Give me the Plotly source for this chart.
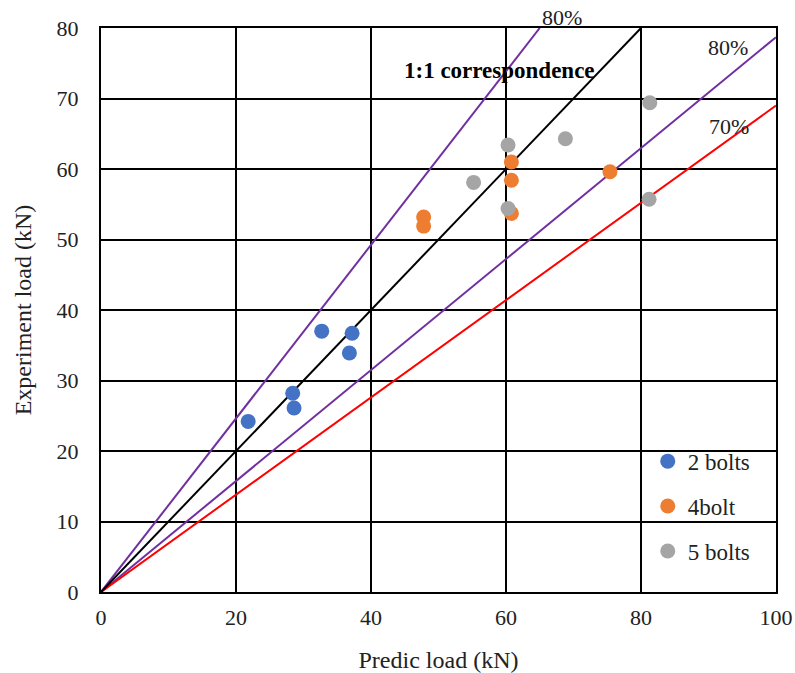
import plotly.graph_objects as go

# Predicted vs experimental load (kN) for each bolt group
bolts2_pred = [21.8, 28.4, 28.6, 32.7, 37.2, 36.8]
bolts2_exp = [24.2, 28.2, 26.1, 37.0, 36.7, 33.9]

bolts4_pred = [47.8, 47.8, 60.8, 60.8, 60.8, 75.4]
bolts4_exp = [53.2, 51.9, 61.0, 58.4, 53.7, 59.6]

bolts5_pred = [60.3, 68.8, 55.2, 60.3, 81.2, 81.3]
bolts5_exp = [63.4, 64.3, 58.1, 54.4, 55.7, 69.4]

# Reference lines (start/end points)
line_1to1_x = [0, 80]
line_1to1_y = [0, 80]
upper_bound_x = [0, 65]
upper_bound_y = [0, 80]
lower_bound_x = [0, 100]
lower_bound_y = [0, 78.7]
red_bound_x = [0, 100]
red_bound_y = [0, 69]

FONT = "Liberation Serif, Times New Roman, serif"
PURPLE = "#7030A0"
TXT = "#222"

fig = go.Figure()

line_specs = [
    (upper_bound_x, upper_bound_y, PURPLE),
    (lower_bound_x, lower_bound_y, PURPLE),
    (red_bound_x, red_bound_y, "#FF0000"),
    (line_1to1_x, line_1to1_y, "#000000"),
]
for lx, ly, col in line_specs:
    fig.add_trace(go.Scatter(x=lx, y=ly, mode="lines",
                             line=dict(color=col, width=2),
                             showlegend=False, hoverinfo="skip"))

series = [
    ("2 bolts", bolts2_pred, bolts2_exp, "#4472C4"),
    ("4bolt", bolts4_pred, bolts4_exp, "#ED7D31"),
    ("5 bolts", bolts5_pred, bolts5_exp, "#A5A5A5"),
]
for name, px, py, col in series:
    fig.add_trace(go.Scatter(x=px, y=py, mode="markers", name=name,
                             legendgroup=name,
                             marker=dict(color=col, size=15, line=dict(width=0))))

# Line labels
fig.add_annotation(xref="paper", yref="paper", x=(562 - 101) / 675, y=1 + 11 / 564,
                   xanchor="center", yanchor="middle",
                   text="80%", showarrow=False,
                   font=dict(size=22, family=FONT, color=TXT))
for x, y, t in [(92.9, 77.3, "80%"), (93.1, 66.0, "70%")]:
    fig.add_annotation(xref="x", yref="y", x=x, y=y, text=t, showarrow=False,
                       xanchor="center", yanchor="middle",
                       font=dict(size=22, family=FONT, color=TXT))
fig.add_annotation(xref="x", yref="y", x=59.1, y=74.0,
                   xanchor="center", yanchor="middle",
                   text="<b>1:1 correspondence</b>", showarrow=False,
                   font=dict(size=23, family=FONT, color="#000"))

fig.update_layout(
    width=795, height=673,
    margin=dict(l=101, r=19, t=28, b=81),
    paper_bgcolor="white", plot_bgcolor="white",
    font=dict(family=FONT, size=22, color=TXT),
    showlegend=True,
    legend=dict(x=0.81, y=0.27, xanchor="left", yanchor="top",
                bgcolor="rgba(0,0,0,0)", borderwidth=0,
                font=dict(size=23, family=FONT, color=TXT),
                tracegroupgap=12, itemwidth=30),
    xaxis=dict(range=[0, 100], dtick=20, tick0=0, automargin=False,
               showgrid=True, gridcolor="black", gridwidth=2,
               showline=True, linecolor="black", linewidth=2, mirror=True,
               zeroline=False, ticks="", ticklabelstandoff=5,
               tickfont=dict(size=22, family=FONT, color=TXT),
               title=dict(text="Predic load (kN)", standoff=23,
                          font=dict(size=24, family=FONT, color=TXT))),
    yaxis=dict(range=[0, 80], dtick=10, tick0=0, automargin=False,
               showgrid=True, gridcolor="black", gridwidth=2,
               showline=True, linecolor="black", linewidth=2, mirror=True,
               zeroline=False, ticks="", ticklabelstandoff=16,
               tickfont=dict(size=22, family=FONT, color=TXT),
               title=dict(text="Experiment load (kN)", standoff=18,
                          font=dict(size=24, family=FONT, color=TXT))),
)

fig.write_html("out.html")
